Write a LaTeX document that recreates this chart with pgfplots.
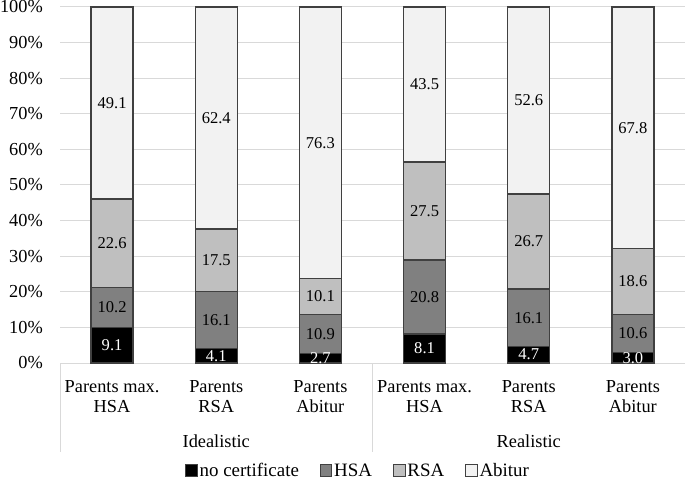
\documentclass[border=0pt]{standalone}
\usepackage{pgfplots}
\pgfplotsset{compat=1.18}
\usepackage{pgfplotstable}
\usepackage{fontspec}
\setmainfont{Liberation Serif}
\definecolor{cNo}{HTML}{000000}
\definecolor{cHSA}{HTML}{808080}
\definecolor{cRSA}{HTML}{BFBFBF}
\definecolor{cAbi}{HTML}{F2F2F2}
\definecolor{cEdge}{HTML}{404040}
\definecolor{cGrid}{HTML}{D9D9D9}
\pgfplotstableread{
x a b c d
0 9.1 10.2 22.6 49.1
1 4.1 16.1 17.5 62.4
2 2.7 10.9 10.1 76.3
3 8.1 20.8 27.5 43.5
4 4.7 16.1 26.7 52.6
5 3.0 10.6 18.6 67.8
}\datatable
\newcommand{\tot}{(\thisrow{a}+\thisrow{b}+\thisrow{c}+\thisrow{d})}
\newcommand{\bigfont}{\fontsize{18.4}{20.5}\selectfont}
\newcommand{\legfont}{\fontsize{19}{20}\selectfont}
\newcommand{\smallfont}{\fontsize{16.6}{18}\selectfont}
\pgfplotsset{
  mybar/.style={ybar, bar width=42bp, bar shift=0pt, draw=cEdge, line width=1.3bp,
    legend image code/.code={\draw[##1, line width=0.8bp] (0bp,0bp) rectangle (11.5bp,11.5bp);}},
  mylab/.style={draw=none, forget plot, nodes near coords, point meta=explicit symbolic,
    every node near coord/.append style={anchor=center, font=\smallfont, text=#1}},
}
\begin{document}
\begin{tikzpicture}
\begin{axis}[
  at={(60bp,122bp)}, anchor=south west,
  scale only axis, width=625bp, height=356bp,
  xmin=-0.5, xmax=5.5, ymin=0, ymax=100,
  clip=false,
  axis x line*=bottom, axis y line*=left,
  x axis line style={draw=cGrid, line width=1bp, -},
  y axis line style={draw=none},
  ymajorgrids, grid style={cGrid, line width=1bp},
  major tick length=0pt,
  ytick={0,10,...,100},
  yticklabel={\pgfmathprintnumber{\tick}\%},
  /pgf/number format/assume math mode=true,
  tick label style={font=\bigfont},
  yticklabel style={anchor=east, inner sep=0pt, xshift=-17bp},
  xtick={0,...,5},
  xticklabels={{Parents max.\\HSA},{Parents\\RSA},{Parents\\Abitur},{Parents max.\\HSA},{Parents\\RSA},{Parents\\Abitur}},
  xticklabel style={align=center, anchor=north, inner sep=0pt, yshift=-17bp},
  reverse legend,
  legend columns=4,
  legend style={at={(0.477,-0.322)}, anchor=south, draw=none, fill=none, font=\legfont,
    inner sep=0pt, outer sep=0pt,
    nodes={inner xsep=2bp, inner ysep=0bp, anchor=base west},
    /tikz/every even column/.append style={column sep=19bp}},
]
\addplot[mybar, fill=cAbi] table[x=x, y expr={(\thisrow{a}+\thisrow{b}+\thisrow{c}+\thisrow{d})/\tot*100}] \datatable;
\addlegendentry{Abitur}
\addplot[mybar, fill=cRSA] table[x=x, y expr={(\thisrow{a}+\thisrow{b}+\thisrow{c})/\tot*100}] \datatable;
\addlegendentry{RSA}
\addplot[mybar, fill=cHSA] table[x=x, y expr={(\thisrow{a}+\thisrow{b})/\tot*100}] \datatable;
\addlegendentry{HSA}
\addplot[mybar, fill=cNo] table[x=x, y expr={\thisrow{a}/\tot*100}] \datatable;
\addlegendentry{no certificate}

\addplot[mylab=white] table[x=x, y expr={(\thisrow{a}/2)/\tot*100}, meta=a] \datatable;
\addplot[mylab=black] table[x=x, y expr={(\thisrow{a}+\thisrow{b}/2)/\tot*100}, meta=b] \datatable;
\addplot[mylab=black] table[x=x, y expr={(\thisrow{a}+\thisrow{b}+\thisrow{c}/2)/\tot*100}, meta=c] \datatable;
\addplot[mylab=black] table[x=x, y expr={(\thisrow{a}+\thisrow{b}+\thisrow{c}+\thisrow{d}/2)/\tot*100}, meta=d] \datatable;

\draw[cGrid, line width=1bp] (rel axis cs:0,0) -- ([yshift=-89bp]rel axis cs:0,0);
\draw[cGrid, line width=1bp] (rel axis cs:0.5,0) -- ([yshift=-89bp]rel axis cs:0.5,0);
\draw[cGrid, line width=1bp] (rel axis cs:1,0) -- ([yshift=-89bp]rel axis cs:1,0);
\node[anchor=base, font=\bigfont, inner sep=0pt] at ([yshift=-84bp]rel axis cs:0.25,0) {Idealistic};
\node[anchor=base, font=\bigfont, inner sep=0pt] at ([yshift=-84bp]rel axis cs:0.75,0) {Realistic};
\end{axis}
\pgfresetboundingbox
\path (0,0) rectangle (685bp,485bp);
\end{tikzpicture}
\end{document}
